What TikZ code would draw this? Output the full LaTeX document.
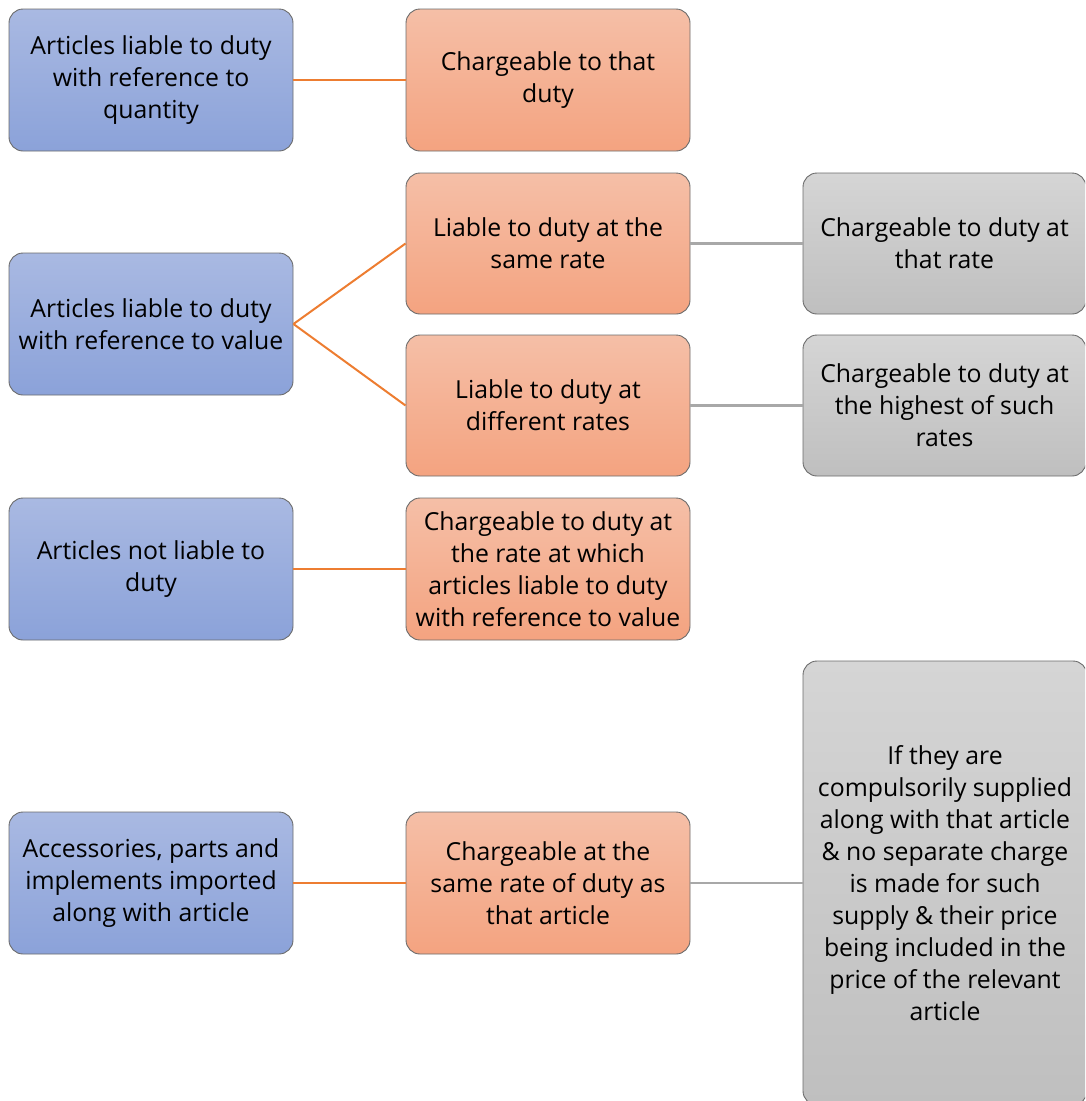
\documentclass[tikz,border=0pt]{standalone}
\usepackage{fontspec}
\setmainfont{Open Sans}
\begin{document}
\begin{tikzpicture}[x=1pt,y=-1pt,
  box/.style={draw=black!58, line width=0.9pt, rounded corners=14pt, align=center,
    minimum width=284pt, minimum height=142pt, inner sep=0pt,
    font=\fontsize{24.8}{32}\selectfont},
  bluebox/.style={box, top color=blueT, bottom color=blueB},
  orbox/.style={box, top color=orT, bottom color=orB},
  greybox/.style={box, top color=grT, bottom color=grB},
  olink/.style={draw=orLine, line width=2pt},
  glink/.style={draw=grLine, line width=2.2pt}]
\definecolor{blueT}{HTML}{A9B9E2}
\definecolor{blueB}{HTML}{8BA2D9}
\definecolor{orT}{HTML}{F5BFA7}
\definecolor{orB}{HTML}{F4A380}
\definecolor{grT}{HTML}{D5D5D5}
\definecolor{grB}{HTML}{BFBFBF}
\definecolor{orLine}{HTML}{ED7D31}
\definecolor{grLine}{HTML}{A8A8A8}
\useasboundingbox (0,0) rectangle (1085,1101);
\clip (0,0) rectangle (1085,1101);
% left column
\node[bluebox] (b1) at (151,80) {Articles liable to duty\\with reference to\\quantity};
\node[bluebox] (b2) at (151,324) {Articles liable to duty\\with reference to value};
\node[bluebox] (b3) at (151,569) {Articles not liable to\\duty};
\node[bluebox] (b4) at (151,883) {Accessories, parts and\\implements imported\\along with article};
% middle column
\node[orbox] (o1) at (548,80) {Chargeable to that\\duty};
\node[orbox, minimum height=141pt] (o2) at (548,243.5) {Liable to duty at the\\same rate};
\node[orbox, minimum height=141pt] (o3) at (548,405.5) {Liable to duty at\\different rates};
\node[orbox] (o4) at (548,569) {Chargeable to duty at\\the rate at which\\articles liable to duty\\with reference to value};
\node[orbox] (o5) at (548,883) {Chargeable at the\\same rate of duty as\\that article};
% right column
\node[greybox, minimum width=283pt, minimum height=141pt] (g1) at (944.5,243.5) {Chargeable to duty at\\that rate};
\node[greybox, minimum width=283pt, minimum height=141pt] (g2) at (944.5,405.5) {Chargeable to duty at\\the highest of such\\rates};
\node[greybox, minimum width=284pt, minimum height=444pt] (g3) at (945,883) {If they are\\compulsorily supplied\\along with that article\\\& no separate charge\\is made for such\\supply \& their price\\being included in the\\price of the relevant\\article};
% connectors
\draw[olink] (b1.east) -- (o1.west);
\draw[olink] (b2.east) -- (o2.west);
\draw[olink] (b2.east) -- (o3.west);
\draw[olink] (b3.east) -- (o4.west);
\draw[olink] (b4.east) -- (o5.west);
\draw[glink] (o2.east) -- (g1.west);
\draw[glink] (o3.east) -- (g2.west);
\draw[glink] (o5.east) -- (g3.west);
\end{tikzpicture}
\end{document}
